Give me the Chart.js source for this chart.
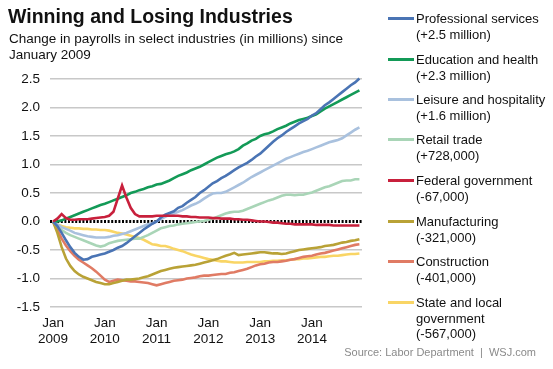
<!DOCTYPE html>
<html>
<head>
<meta charset="utf-8">
<script src="https://cdn.jsdelivr.net/npm/chart.js@4/dist/chart.umd.min.js"></script>
<style>
  html, body { margin:0; padding:0; background:#fff; }
  body { width:553px; height:369px; position:relative; overflow:hidden; font-family:"Liberation Sans", Arial, sans-serif; color:#111; }
  #wrap { position:absolute; left:0; top:0; width:553px; height:369px; }
  .t { position:absolute; white-space:nowrap; }
  #title { left:8px; top:5px; font-size:19.5px; font-weight:bold; color:#111; }
  #sub { left:9px; top:31px; font-size:13.5px; line-height:16px; color:#111; }
  #legend .item { position:absolute; left:388px; }
  #legend .sw { position:absolute; left:0; width:26px; height:3px; }
  #legend .lbl { position:absolute; left:28px; top:0; font-size:13px; line-height:15.5px; white-space:nowrap; color:#111; }
  #source { right:17px; top:346px; font-size:11px; color:#8a8a8a; }
</style>
</head>
<body>
<div id="wrap"><canvas id="c" width="553" height="369"></canvas></div>
<div class="t" id="title">Winning and Losing Industries</div>
<div class="t" id="sub">Change in payrolls in select industries (in millions) since<br>January 2009</div>
<div id="legend"></div>
<div class="t" id="source">Source: Labor Department&nbsp;&nbsp;|&nbsp;&nbsp;WSJ.com</div>
<script>
// Months since Jan 2009 (Jan 2009 .. Dec 2014)
const startYear = 2009;
const yearTicks = [0, 12, 24, 36, 48, 60];
const yTickValues = [2.5, 2.0, 1.5, 1.0, 0.5, 0.0, -0.5, -1.0, -1.5];

const seriesNames = [
  ["Professional services", "(+2.5 million)"],
  ["Education and health", "(+2.3 million)"],
  ["Leisure and hospitality", "(+1.6 million)"],
  ["Retail trade", "(+728,000)"],
  ["Federal government", "(-67,000)"],
  ["Manufacturing", "(-321,000)"],
  ["Construction", "(-401,000)"],
  ["State and local", "government", "(-567,000)"]
];

const professional = [0,-0.08,-0.2,-0.33,-0.45,-0.55,-0.62,-0.67,-0.66,-0.62,-0.6,-0.58,
  -0.56,-0.53,-0.5,-0.46,-0.43,-0.38,-0.32,-0.26,-0.2,-0.14,-0.09,-0.04,
  0.0,0.07,0.12,0.15,0.18,0.24,0.27,0.33,0.38,0.43,0.5,0.55,
  0.61,0.67,0.71,0.76,0.8,0.85,0.9,0.95,0.99,1.03,1.08,1.14,
  1.19,1.26,1.33,1.4,1.46,1.51,1.57,1.62,1.67,1.72,1.76,1.8,
  1.86,1.9,1.97,2.04,2.09,2.15,2.21,2.27,2.33,2.39,2.44,2.51];

const education = [0,0.0,0.02,0.05,0.08,0.11,0.14,0.17,0.2,0.23,0.26,0.29,
  0.31,0.34,0.37,0.4,0.43,0.46,0.5,0.52,0.55,0.57,0.6,0.62,
  0.65,0.66,0.69,0.72,0.76,0.8,0.83,0.86,0.9,0.93,0.96,1.0,
  1.04,1.08,1.12,1.15,1.18,1.2,1.23,1.27,1.33,1.37,1.42,1.45,
  1.5,1.53,1.55,1.58,1.62,1.65,1.68,1.72,1.75,1.78,1.8,1.82,
  1.85,1.88,1.93,1.98,2.02,2.06,2.1,2.14,2.18,2.22,2.26,2.3];

const leisure = [0,-0.05,-0.1,-0.13,-0.16,-0.2,-0.22,-0.24,-0.26,-0.27,-0.28,-0.28,
  -0.28,-0.27,-0.25,-0.24,-0.22,-0.2,-0.17,-0.14,-0.11,-0.08,-0.05,-0.03,
  0.0,0.04,0.08,0.12,0.14,0.17,0.2,0.24,0.28,0.31,0.35,0.4,
  0.45,0.49,0.5,0.5,0.52,0.56,0.6,0.64,0.68,0.73,0.78,0.82,
  0.86,0.9,0.94,0.98,1.02,1.06,1.1,1.13,1.16,1.19,1.22,1.24,
  1.27,1.3,1.33,1.36,1.39,1.41,1.43,1.46,1.51,1.56,1.61,1.65];

const retail = [0,-0.08,-0.15,-0.2,-0.24,-0.27,-0.3,-0.33,-0.36,-0.39,-0.42,-0.44,
  -0.42,-0.38,-0.36,-0.34,-0.33,-0.32,-0.31,-0.3,-0.3,-0.27,-0.24,-0.2,
  -0.16,-0.12,-0.1,-0.08,-0.07,-0.05,-0.04,-0.03,-0.02,-0.01,0.0,0.01,
  0.03,0.05,0.08,0.11,0.14,0.16,0.17,0.17,0.19,0.22,0.25,0.28,
  0.31,0.34,0.37,0.39,0.42,0.45,0.47,0.47,0.46,0.47,0.47,0.49,
  0.51,0.54,0.57,0.6,0.62,0.65,0.68,0.71,0.72,0.72,0.74,0.74];

const federal = [0,0.05,0.13,0.06,0.03,0.03,0.04,0.04,0.04,0.05,0.06,0.07,
  0.08,0.1,0.17,0.4,0.63,0.42,0.24,0.13,0.09,0.09,0.09,0.09,
  0.1,0.1,0.1,0.1,0.1,0.1,0.09,0.09,0.08,0.08,0.07,0.07,
  0.07,0.06,0.06,0.05,0.05,0.05,0.04,0.04,0.03,0.03,0.02,0.01,
  0.0,0.0,-0.01,-0.02,-0.02,-0.03,-0.04,-0.04,-0.05,-0.05,-0.05,-0.05,
  -0.05,-0.06,-0.06,-0.06,-0.06,-0.07,-0.07,-0.07,-0.07,-0.07,-0.07,-0.07];

const manufacturing = [0,-0.2,-0.45,-0.65,-0.78,-0.87,-0.93,-0.97,-1.0,-1.03,-1.06,-1.08,
  -1.1,-1.1,-1.08,-1.06,-1.04,-1.02,-1.02,-1.01,-1.0,-0.98,-0.96,-0.93,
  -0.9,-0.87,-0.85,-0.83,-0.81,-0.8,-0.79,-0.78,-0.77,-0.76,-0.74,-0.72,
  -0.7,-0.68,-0.66,-0.63,-0.6,-0.58,-0.55,-0.59,-0.58,-0.57,-0.56,-0.55,
  -0.54,-0.54,-0.55,-0.56,-0.56,-0.57,-0.56,-0.54,-0.52,-0.5,-0.49,-0.48,
  -0.47,-0.46,-0.45,-0.43,-0.42,-0.41,-0.39,-0.37,-0.36,-0.34,-0.33,-0.31];

const construction = [0,-0.15,-0.3,-0.42,-0.52,-0.6,-0.67,-0.72,-0.77,-0.82,-0.88,-0.95,
  -1.02,-1.06,-1.04,-1.02,-1.03,-1.04,-1.05,-1.05,-1.06,-1.07,-1.08,-1.1,
  -1.12,-1.1,-1.08,-1.06,-1.04,-1.03,-1.02,-1.0,-0.99,-0.98,-0.96,-0.95,
  -0.95,-0.94,-0.93,-0.92,-0.92,-0.9,-0.89,-0.87,-0.85,-0.83,-0.8,-0.77,
  -0.75,-0.74,-0.72,-0.71,-0.71,-0.7,-0.69,-0.67,-0.66,-0.64,-0.62,-0.61,
  -0.6,-0.58,-0.56,-0.55,-0.53,-0.51,-0.49,-0.47,-0.45,-0.43,-0.41,-0.4];

const stateLocal = [0,-0.05,-0.08,-0.1,-0.11,-0.12,-0.12,-0.13,-0.13,-0.14,-0.14,-0.15,
  -0.15,-0.16,-0.18,-0.2,-0.21,-0.23,-0.25,-0.27,-0.29,-0.32,-0.36,-0.4,
  -0.41,-0.43,-0.43,-0.45,-0.48,-0.5,-0.52,-0.55,-0.58,-0.6,-0.62,-0.64,
  -0.66,-0.67,-0.69,-0.7,-0.7,-0.71,-0.72,-0.72,-0.72,-0.71,-0.71,-0.71,
  -0.71,-0.7,-0.7,-0.69,-0.69,-0.68,-0.68,-0.67,-0.66,-0.66,-0.65,-0.65,
  -0.64,-0.63,-0.62,-0.62,-0.61,-0.6,-0.6,-0.59,-0.58,-0.57,-0.57,-0.56];

const colors = ["#4a74b4", "#139a57", "#a9c1de", "#a9d5b7", "#c8203c", "#b9a236", "#e07b64", "#f9d565"];
const allSeries = [professional, education, leisure, retail, federal, manufacturing, construction, stateLocal];

// Legend (HTML text)
const legendTops = [11, 52, 92, 132, 173, 214, 254, 295];
const leg = document.getElementById('legend');
seriesNames.forEach((lines, k) => {
  const item = document.createElement('div');
  item.className = 'item';
  item.style.top = legendTops[k] + 'px';
  const sw = document.createElement('div');
  sw.className = 'sw';
  sw.style.background = colors[k];
  sw.style.top = '6px';
  const lbl = document.createElement('div');
  lbl.className = 'lbl';
  lbl.innerHTML = lines.join('<br>');
  item.appendChild(sw); item.appendChild(lbl);
  leg.appendChild(item);
});

const datasets = allSeries.map((arr, k) => ({
  label: seriesNames[k].join(' '),
  data: arr.map((v, i) => ({x: i, y: v})),
  borderColor: colors[k],
  backgroundColor: colors[k],
  borderWidth: 2.6,
  pointRadius: 0,
  tension: 0,
  fill: false,
  clip: false
}));
// draw order: federal on top
const order = [4, 0, 1, 2, 3, 5, 6, 7];
datasets.forEach((d, k) => { d.order = order.indexOf(k); });

const zeroLine = {
  id: 'zeroLine',
  beforeDatasetsDraw(chart) {
    const {ctx, chartArea} = chart;
    const y = chart.scales.y.getPixelForValue(0);
    ctx.save();
    ctx.strokeStyle = '#000';
    ctx.lineWidth = 3.2;
    ctx.setLineDash([2, 1.6]);
    ctx.beginPath();
    ctx.moveTo(chartArea.left, y);
    ctx.lineTo(chartArea.right, y);
    ctx.stroke();
    ctx.restore();
  }
};

new Chart(document.getElementById('c'), {
  type: 'line',
  data: { datasets },
  plugins: [zeroLine],
  options: {
    responsive: false,
    animation: false,
    devicePixelRatio: 1,
    layout: { padding: { top: 79, right: 191, bottom: 22, left: 0 } },
    plugins: { legend: { display: false }, tooltip: { enabled: false } },
    scales: {
      x: {
        type: 'linear',
        min: -0.7,
        max: 71.6,
        afterFit(s) { s.height = 40; },
        afterBuildTicks(s) { s.ticks = yearTicks.map(v => ({ value: v })); },
        grid: { display: false, drawTicks: false },
        border: { display: false },
        ticks: {
          autoSkip: false,
          maxRotation: 0,
          padding: 8,
          color: '#111',
          font: { family: 'Liberation Sans', size: 13.5 },
          callback: (v) => ['Jan', String(startYear + Math.round(v / 12))]
        }
      },
      y: {
        min: -1.5,
        max: 2.5,
        afterFit(s) { s.width = 50; },
        afterBuildTicks(s) { s.ticks = yTickValues.map(v => ({ value: v })); },
        grid: {
          drawTicks: false,
          color: (c) => c.tick && c.tick.value === 0 ? 'rgba(0,0,0,0)' : '#c8c8c8',
          lineWidth: 1.5
        },
        border: { display: false },
        ticks: {
          padding: 10,
          color: '#111',
          font: { family: 'Liberation Sans', size: 13.5 },
          callback: (v) => Number(v).toFixed(1)
        }
      }
    }
  }
});
</script>
</body>
</html>
